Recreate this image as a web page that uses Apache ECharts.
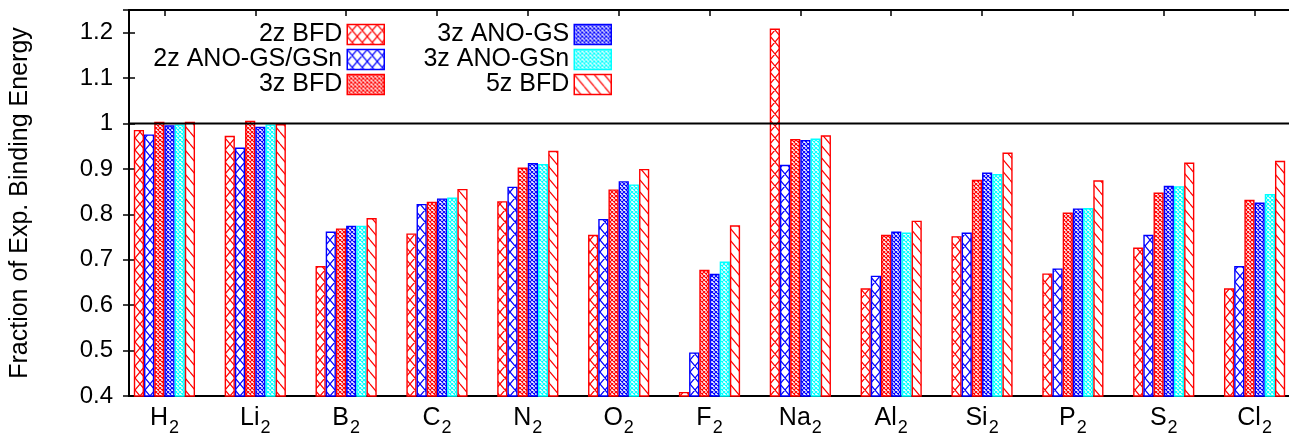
<!DOCTYPE html>
<html><head><meta charset="utf-8">
<script src="https://cdn.jsdelivr.net/npm/echarts@6/dist/echarts.min.js"></script>
<style>html,body{margin:0;padding:0;background:#fff}#c{width:1289px;height:439px}</style>
</head><body><div id="c"></div>
<script>
// ---- data ----
const categories = ['H2','Li2','B2','C2','N2','O2','F2','Na2','Al2','Si2','P2','S2','Cl2'];
const seriesNames = ['2z BFD','2z ANO-GS/GSn','3z BFD','3z ANO-GS','3z ANO-GSn','5z BFD'];
const bfd2z    = [0.986,0.973,0.686,0.758,0.829,0.755,0.409,1.209,0.637,0.752,0.670,0.727,0.637];
const ano2z    = [0.976,0.947,0.762,0.823,0.861,0.790,0.496,0.909,0.665,0.760,0.681,0.755,0.686];
const bfd3z    = [1.004,1.006,0.769,0.828,0.903,0.855,0.678,0.966,0.755,0.876,0.804,0.848,0.832];
const anoGS3z  = [0.996,0.993,0.775,0.835,0.913,0.873,0.669,0.964,0.762,0.892,0.813,0.863,0.826];
const anoGSn3z = [0.998,0.998,0.775,0.837,0.911,0.866,0.696,0.967,0.760,0.889,0.814,0.862,0.845];
const bfd5z    = [1.004,0.999,0.792,0.856,0.940,0.900,0.776,0.974,0.786,0.936,0.875,0.914,0.918];
const yMin = 0.4, yMax = 1.25, yStep = 0.1;
const referenceValue = 1;
const yTitle = 'Fraction of Exp. Binding Energy';

// ---- patterns ----
function pattern(color, w, h, both, lw) {
  const c = document.createElement('canvas');
  c.width = w; c.height = h;
  const g = c.getContext('2d');
  g.fillStyle = '#fff'; g.fillRect(0, 0, w, h);
  g.strokeStyle = color; g.lineWidth = lw;
  g.beginPath();
  for (const dx of [-w, 0, w]) {
    g.moveTo(dx, 0); g.lineTo(dx + w, h);
    if (both) { g.moveTo(dx + w, 0); g.lineTo(dx, h); }
  }
  g.stroke();
  return { image: c, repeat: 'repeat' };
}
const RED = '#ff0000', BLUE = '#0000ff', CYAN = '#00ffff';
const styles = [
  { fill: pattern(RED, 10, 12, true, 1.2), border: RED },
  { fill: pattern(BLUE, 10, 12, true, 1.2), border: BLUE },
  { fill: pattern(RED, 4, 4, true, 1.1), border: RED },
  { fill: pattern(BLUE, 4, 4, true, 1.1), border: BLUE },
  { fill: pattern(CYAN, 4, 4, true, 1.1), border: CYAN },
  { fill: pattern(RED, 10, 12, false, 1.2), border: RED }
];
const values = [bfd2z, ano2z, bfd3z, anoGS3z, anoGSn3z, bfd5z];

const FONT = "'Liberation Sans', Arial, sans-serif";
const chart = echarts.init(document.getElementById('c'), null, { renderer: 'canvas' });

const barSeries = seriesNames.map((name, i) => ({
  name, type: 'bar', xAxisIndex: 2, yAxisIndex: 2,
  data: values[i], barWidth: 10.2, barGap: '0%',
  itemStyle: { color: styles[i].fill, borderColor: styles[i].border, borderWidth: 1.4 },
  animation: false
}));

function legendData(names) {
  return names.map(n => {
    const i = seriesNames.indexOf(n);
    return { name: n, itemStyle: { color: styles[i].fill, borderColor: styles[i].border, borderWidth: 1.5 } };
  });
}
const legendCommon = {
  orient: 'vertical', align: 'right', icon: 'rect', itemWidth: 37, itemHeight: 20, itemGap: 0,
  padding: 0, selectedMode: false,
  textStyle: { fontFamily: FONT, fontSize: 25, color: '#000', lineHeight: 23 }
};

const axisLineStyle = { color: '#000', width: 2 };

chart.setOption({
  animation: false,
  backgroundColor: '#fff',
  grid: [
    { left: 129, width: 1161, top: 10, bottom: 43, outerBoundsMode: 'none', containLabel: false },
    { left: 119, width: 1181, top: 10, bottom: 43, outerBoundsMode: 'none', containLabel: false }
  ],
  legend: [
    Object.assign({ right: 904, top: 22, data: legendData(seriesNames.slice(0, 3)) }, legendCommon),
    Object.assign({ right: 677, top: 22, data: legendData(seriesNames.slice(3)) }, legendCommon)
  ],
  xAxis: [
    { gridIndex: 0, type: 'value', min: 0, max: 1, position: 'bottom',
      axisLine: { show: true, lineStyle: axisLineStyle }, axisTick: { show: false },
      axisLabel: { show: false }, splitLine: { show: false } },
    { gridIndex: 0, type: 'value', min: 0, max: 1, position: 'top',
      axisLine: { show: true, lineStyle: axisLineStyle }, axisTick: { show: false },
      axisLabel: { show: false }, splitLine: { show: false } },
    { gridIndex: 1, type: 'category', data: categories, position: 'bottom',
      axisLine: { show: false },
      axisTick: { show: false },
      axisLabel: {
        interval: 0, margin: 10,
        formatter: v => { const m = v.match(/^(\D+)(\d*)$/); return '{b|' + m[1] + '}{s|' + m[2] + '}'; },
        rich: {
          b: { fontFamily: FONT, fontSize: 25, color: '#000', verticalAlign: 'top', lineHeight: 25 },
          s: { fontFamily: FONT, fontSize: 18, color: '#000', verticalAlign: 'top', lineHeight: 18, padding: [13, 0, 0, 1] }
        }
      },
      splitLine: { show: false } },
    { gridIndex: 1, type: 'category', data: categories, position: 'top',
      axisLine: { show: false },
      axisTick: { show: true, inside: true, alignWithLabel: true, length: 6, lineStyle: { color: '#000', width: 1.5 } },
      axisLabel: { show: false }, splitLine: { show: false } }
  ],
  yAxis: [
    { gridIndex: 0, type: 'value', min: yMin, max: yMax, interval: yStep, position: 'left',
      axisLine: { show: true, lineStyle: axisLineStyle },
      axisTick: { show: true, inside: true, length: 6, lineStyle: { color: '#000', width: 1.5 } },
      axisLabel: { fontFamily: FONT, fontSize: 24, color: '#000', margin: 16, showMaxLabel: false,
        formatter: v => String(Math.round(v * 10) / 10) },
      splitLine: { show: false },
      name: yTitle, nameLocation: 'middle', nameGap: 96,
      nameTextStyle: { fontFamily: FONT, fontSize: 25, color: '#000' } },
    { gridIndex: 0, type: 'value', min: yMin, max: yMax, interval: yStep, position: 'right',
      axisLine: { show: true, lineStyle: axisLineStyle },
      axisTick: { show: true, inside: true, length: 6, lineStyle: { color: '#000', width: 1.5 } },
      axisLabel: { show: false }, splitLine: { show: false } },
    { gridIndex: 1, type: 'value', min: yMin, max: yMax, show: false }
  ],
  series: barSeries.concat([{
    name: 'ref', type: 'line', xAxisIndex: 0, yAxisIndex: 0, z: 5,
    data: [[0, referenceValue], [1, referenceValue]], symbol: 'none', silent: true,
    lineStyle: { color: '#000', width: 2 }
  }])
});
</script>
</body></html>
